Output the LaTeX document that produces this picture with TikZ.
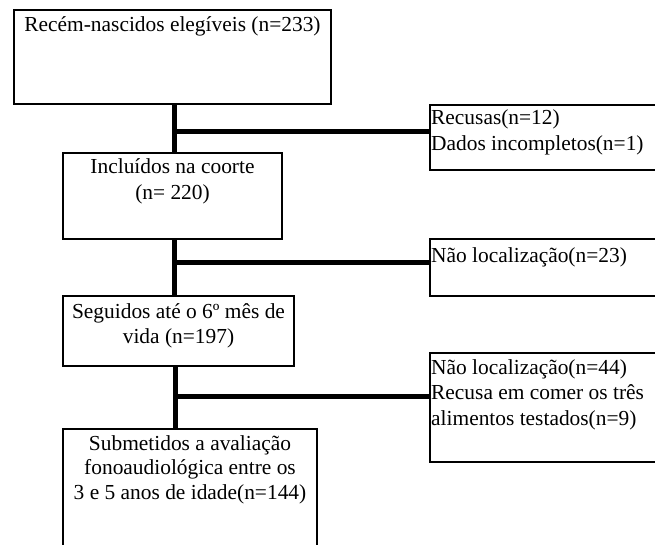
\documentclass[tikz,border=0pt]{standalone}
\usepackage{fontspec}
\setmainfont{Liberation Serif}
\begin{document}
\begin{tikzpicture}[x=1pt,y=-1pt,
  boxn/.style={draw=black,line width=1.2pt,rectangle,inner sep=0pt},
  conn/.style={draw=black,line width=5pt},
  ctext/.style={anchor=base,inner sep=0pt,font=\fontsize{21.4}{26}\selectfont},
  ltext/.style={anchor=base west,inner sep=0pt,font=\fontsize{21.4}{26}\selectfont}]
\useasboundingbox (0,0) rectangle (655,544);
\clip (0,0) rectangle (655,544);
% main boxes
\node[boxn,minimum width=317pt,minimum height=94pt] (b1) at (172.5,57) {};
\node[boxn,minimum width=219pt,minimum height=86pt] (b2) at (172.5,196) {};
\node[boxn,minimum width=231pt,minimum height=70pt] (b3) at (178.5,331) {};
\node[boxn,minimum width=254pt,minimum height=121pt] (b4) at (190,489.5) {};
% side boxes
\node[boxn,minimum width=230pt,minimum height=65pt] (r1) at (545,137.5) {};
\node[boxn,minimum width=230pt,minimum height=57pt] (r2) at (545,267.5) {};
\node[boxn,minimum width=230pt,minimum height=109pt] (r3) at (545,407.5) {};
% texts
\node[ctext] (t1) at (172.5,31) {Recém-nascidos elegíveis (n=233)};
\node[ctext] (t2) at (172.5,173.3) {\begin{tabular}[t]{@{}c@{}}Incluídos na coorte\\(n= 220)\end{tabular}};
\node[ctext,font=\fontsize{21.4}{25}\selectfont] (t3) at (178.5,318) {\begin{tabular}[t]{@{}c@{}}Seguidos até o 6º mês de\\vida (n=197)\end{tabular}};
\node[ctext,font=\fontsize{21.4}{24.5}\selectfont] (t4) at (190,450) {\begin{tabular}[t]{@{}c@{}}Submetidos a avaliação\\fonoaudiológica entre os\\3 e 5 anos de idade(n=144)\end{tabular}};
\node[ltext] (s1) at (431,124) {\begin{tabular}[t]{@{}l@{}}Recusas(n=12)\\Dados incompletos(n=1)\end{tabular}};
\node[ltext] (s2) at (431,262) {Não localização(n=23)};
\node[ltext,font=\fontsize{21.4}{25.7}\selectfont] (s3) at (431,374) {\begin{tabular}[t]{@{}l@{}}Não localização(n=44)\\Recusa em comer os três\\alimentos testados(n=9)\end{tabular}};
% connectors
\coordinate (j1) at (174,131);
\coordinate (j2) at (174,262);
\coordinate (j3) at (175,396);
\draw[conn] (b1.south -| j1) -- (b2.north -| j1);
\draw[conn] (j1) -- (j1 -| r1.west);
\draw[conn] (b2.south -| j2) -- (b3.north -| j2);
\draw[conn] (j2) -- (j2 -| r2.west);
\draw[conn] (b3.south -| j3) -- (b4.north -| j3);
\draw[conn] (j3) -- (j3 -| r3.west);
\end{tikzpicture}
\end{document}
